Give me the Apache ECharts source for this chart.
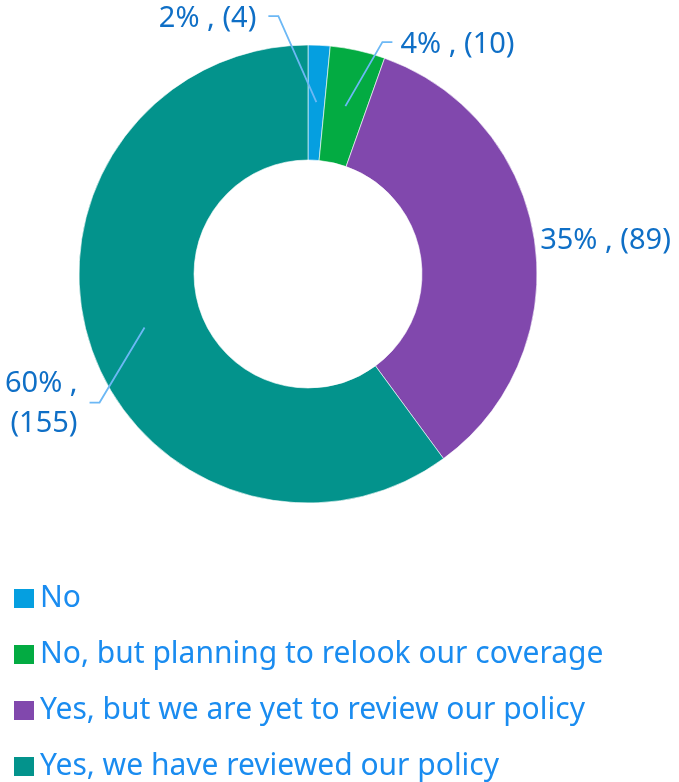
<!DOCTYPE html>
<html>
<head>
<meta charset="utf-8">
<script src="https://cdn.jsdelivr.net/npm/echarts@6/dist/echarts.min.js"></script>
<style>
  html, body { margin: 0; padding: 0; background: #ffffff; }
  #chart { width: 679px; height: 782px; }
</style>
</head>
<body>
<div id="chart"></div>
<script>
// ---- data ----
const categories = [
  'No',
  'No, but planning to relook our coverage',
  'Yes, but we are yet to review our policy',
  'Yes, we have reviewed our policy'
];
const counts = [4, 10, 89, 155];
const percents = [2, 4, 35, 60];

// ---- styling / layout ----
const sliceColors = ['#059fe0', '#03ab42', '#8148ad', '#03938c'];
const labelColor = '#0f6fc6';
const legendColor = '#1a8cf0';
const leaderColor = '#6cb8f5';
const fontFamily = '"Noto Sans", "Open Sans", sans-serif';
// elbow offset of each leader line from its anchor point, tail direction, line shown, label break
const labelSpec = [
  { elbow: [-38, -86], side: -1, line: true, brk: false, dy: 3 },
  { elbow: [37, -64], side: 1, line: true, brk: false, dy: 3 },
  { elbow: [62, -8], side: 1, line: false, brk: false, dy: 0 },
  { elbow: [-45, 75], side: -1, line: true, brk: true, dy: 1 }
];

const chart = echarts.init(document.getElementById('chart'), null, { renderer: 'canvas' });

const center = [308, 274];

const option = {
  animation: false,
  color: sliceColors,
  legend: {
    orient: 'vertical',
    left: 12,
    top: 583,
    padding: 0,
    icon: 'rect',
    itemWidth: 22,
    itemHeight: 21,
    itemGap: 25,
    itemTextGap: 7,
    textStyle: { fontSize: 30, lineHeight: 31, color: legendColor, fontFamily: fontFamily },
    data: categories,
    selectedMode: false
  },
  series: [
    {
      type: 'pie',
      center: center,
      radius: [114, 229],
      startAngle: 90,
      clockwise: true,
      silent: true,
      label: { show: false },
      labelLine: { show: false },
      itemStyle: { borderColor: '#ffffff', borderWidth: 0.6 },
      emphasis: { disabled: true },
      data: categories.map((name, i) => ({ name: name, value: counts[i], itemStyle: { color: sliceColors[i] } }))
    },
    {
      type: 'pie',
      z: 5,
      center: center,
      radius: [0, 172],
      startAngle: 90,
      clockwise: true,
      silent: true,
      avoidLabelOverlap: false,
      emphasis: { disabled: true },
      itemStyle: { color: 'rgba(0,0,0,0)' },
      label: {
        show: true,
        position: 'outside',
        color: labelColor,
        fontSize: 29,
        lineHeight: 40,
        fontFamily: fontFamily,
        formatter: function (p) {
          const i = p.dataIndex;
          return percents[i] + '% ,' + (labelSpec[i].brk ? '\n' : ' ') + '(' + counts[i] + ')';
        }
      },
      labelLine: {
        show: true,
        length: 10,
        length2: 10,
        lineStyle: { color: leaderColor, width: 1.8 }
      },
      labelLayout: function (params) {
        const s = labelSpec[params.dataIndex];
        const pts = params.labelLinePoints;
        if (!pts) return {};
        const p0 = pts[0];
        const p1 = [p0[0] + s.elbow[0], p0[1] + s.elbow[1]];
        const p2 = [p1[0] + s.side * 10, p1[1]];
        const gap = s.side < 0 ? 12 : 8;
        const res = {
          x: s.line ? p2[0] + s.side * gap : p1[0],
          y: p1[1] + s.dy,
          align: s.side < 0 ? 'right' : 'left',
          verticalAlign: 'middle'
        };
        res.labelLinePoints = s.line ? [p0, p1, p2] : [p0, p0, p0];
        return res;
      },
      data: categories.map((name, i) => ({
        name: name,
        value: counts[i],
        labelLine: labelSpec[i].line ? undefined : { lineStyle: { opacity: 0 } }
      }))
    }
  ]
};

chart.setOption(option);
</script>
</body>
</html>
